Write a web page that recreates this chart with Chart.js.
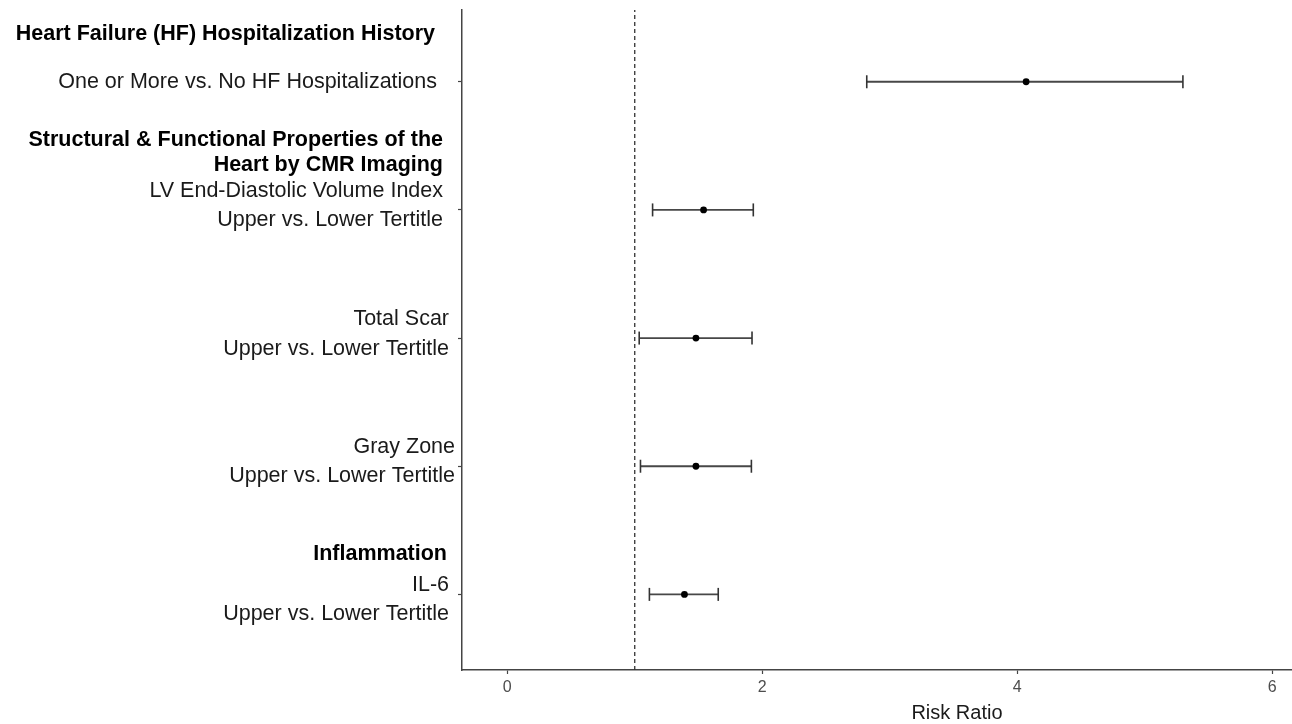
<!DOCTYPE html>
<html>
<head>
<meta charset="utf-8">
<script src="https://cdn.jsdelivr.net/npm/chart.js@4/dist/chart.umd.min.js"></script>
<style>
  html, body { margin: 0; padding: 0; background: #fff; overflow: hidden; }
  /* a figura original está cortada à direita, por isso o canvas é mais largo que a janela */
  #wrap { width: 1460px; height: 724px; position: relative; }
</style>
</head>
<body>
<div id="wrap"><canvas id="forest"></canvas></div>
<script>
// valores
const rowPos = [5, 4, 3, 2, 1];
const riskRatio = [4.07, 1.54, 1.48, 1.48, 1.39];
const lowerCI = [2.82, 1.14, 1.035, 1.045, 1.115];
const upperCI = [5.30, 1.93, 1.92, 1.915, 1.655];
const refLine = 1;
const xTicks = [0, 2, 4, 6];

// textos do eixo y (linha, texto, negrito)
const labelRow = [0, 0, 1, 1, 1, 1, 2, 2, 3, 3, 4, 4, 4];
const labelText = [
    'Heart Failure (HF) Hospitalization History',
    'One or More vs. No HF Hospitalizations',
    'Structural & Functional Properties of the',
    'Heart by CMR Imaging',
    'LV End-Diastolic Volume Index',
    'Upper vs. Lower Tertitle',
    'Total Scar',
    'Upper vs. Lower Tertitle',
    'Gray Zone',
    'Upper vs. Lower Tertitle',
    'Inflammation',
    'IL-6',
    'Upper vs. Lower Tertitle'
];
const labelBold = [true, false, true, true, false, false, false, false, false, false, true, false, false];
// deslocamento vertical (px) e borda direita de cada linha de texto
const labelDy = [-49, -1, -72, -47, -21, 8, -21, 9, -21, 8, -42, -11, 18];
const labelRight = [435, 437, 443, 443, 443, 443, 449, 449, 455, 455, 447, 449, 449];

const FONT = "'Liberation Sans', Arial, sans-serif";

const datasets = [];

// linha tracejada em RR = 1
datasets.push({
    type: 'line',
    data: [{ x: refLine, y: 0.41 }, { x: refLine, y: 5.56 }],
    borderColor: '#333',
    borderWidth: 1.3,
    borderDash: [4, 3],
    pointRadius: 0,
    order: 3
});

// intervalos de confiança
rowPos.forEach((y, i) => {
    datasets.push({
        type: 'line',
        data: [{ x: lowerCI[i], y: y }, { x: upperCI[i], y: y }],
        borderColor: '#474747',
        borderWidth: 1.8,
        pointStyle: 'line',
        pointRotation: 90,
        pointRadius: 6.5,
        pointBorderColor: '#333',
        pointBorderWidth: 1.6,
        order: 2
    });
});

// estimativas pontuais
datasets.push({
    type: 'scatter',
    data: rowPos.map((y, i) => ({ x: riskRatio[i], y: y })),
    backgroundColor: '#000',
    borderColor: '#000',
    pointRadius: 3.4,
    borderWidth: 0,
    order: 1
});

const leftLabels = {
    id: 'leftLabels',
    afterDraw(chart) {
        const ctx = chart.ctx;
        const yScale = chart.scales.y;
        ctx.save();
        ctx.textAlign = 'right';
        ctx.textBaseline = 'alphabetic';
        labelText.forEach((txt, i) => {
            const yc = yScale.getPixelForValue(rowPos[labelRow[i]]) + labelDy[i];
            ctx.font = (labelBold[i] ? 'bold ' : '') + '21.5px ' + FONT;
            ctx.fillStyle = labelBold[i] ? '#000' : '#1a1a1a';
            ctx.fillText(txt, labelRight[i], yc + 7.7);
        });
        ctx.restore();
    }
};

new Chart(document.getElementById('forest'), {
    data: { datasets: datasets },
    options: {
        responsive: true,
        maintainAspectRatio: false,
        animation: false,
        layout: { padding: { top: 10, right: 0, bottom: 0, left: 0 } },
        plugins: {
            legend: { display: false },
            tooltip: { enabled: false }
        },
        scales: {
            x: {
                type: 'linear',
                min: -0.355,
                max: 7.41,
                afterFit(scale) {
                    scale.height = 54;
                    scale.paddingLeft = 0;
                    scale.paddingRight = 0;
                },
                afterBuildTicks(scale) { scale.ticks = xTicks.map(v => ({ value: v })); },
                border: { color: '#444', width: 1.5 },
                grid: { drawOnChartArea: false, tickLength: 4, color: '#444', tickWidth: 1.2 },
                ticks: {
                    padding: 4,
                    color: '#4d4d4d',
                    font: { family: FONT, size: 16 },
                    maxRotation: 0
                },
                title: {
                    display: true,
                    text: 'Risk Ratio',
                    color: '#1a1a1a',
                    font: { family: FONT, size: 20 },
                    padding: { top: 0, bottom: -1 }
                }
            },
            y: {
                type: 'linear',
                min: 0.41,
                max: 5.56,
                afterFit(scale) { scale.width = 462; },
                afterBuildTicks(scale) { scale.ticks = rowPos.map(v => ({ value: v })); },
                border: { color: '#444', width: 1.5 },
                grid: { drawOnChartArea: false, tickLength: 4, color: '#444', tickWidth: 1.2 },
                ticks: { display: false }
            }
        }
    },
    plugins: [leftLabels]
});
</script>
</body>
</html>
